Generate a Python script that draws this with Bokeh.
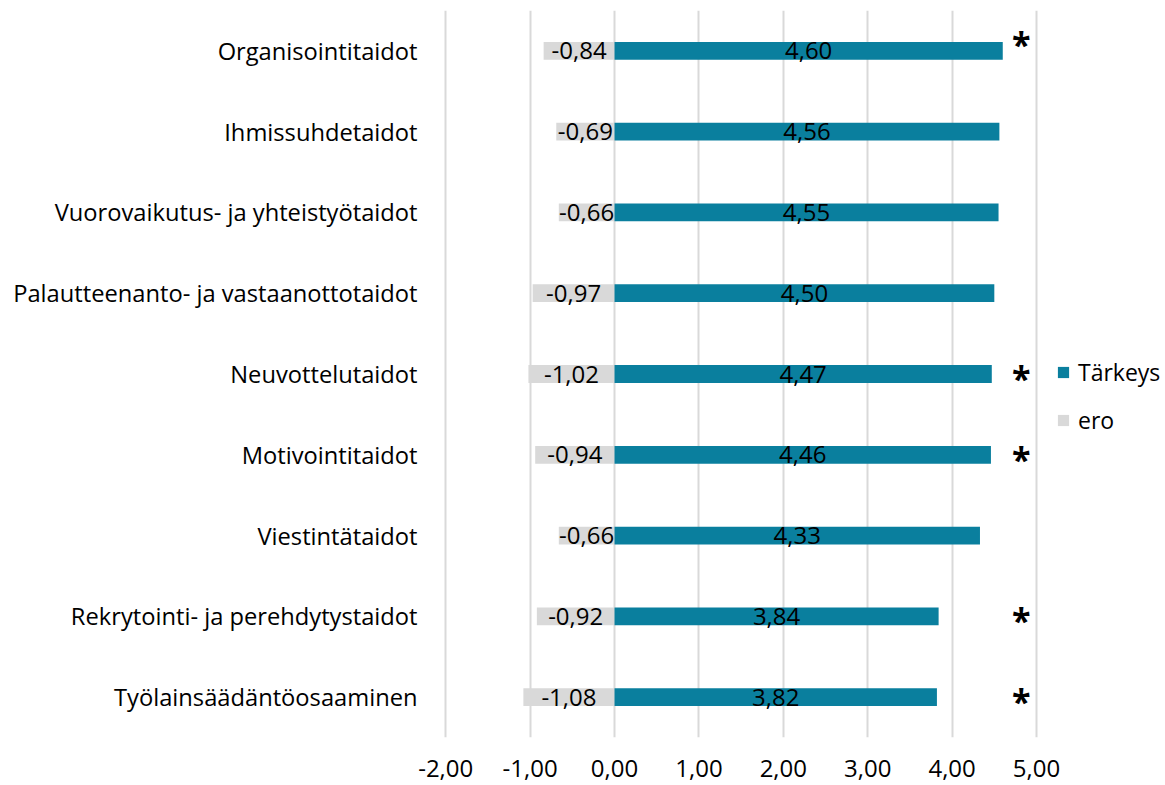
from bokeh.plotting import figure
from bokeh.models import ColumnDataSource, FactorRange, Range1d, FixedTicker, Legend, LegendItem, CustomJSTickFormatter
from bokeh.core.properties import value
from bokeh.embed import file_html
from bokeh.resources import INLINE

# Skill areas, listed top to bottom
categories = [
    "Organisointitaidot",
    "Ihmissuhdetaidot",
    "Vuorovaikutus- ja yhteistyötaidot",
    "Palautteenanto- ja vastaanottotaidot",
    "Neuvottelutaidot",
    "Motivointitaidot",
    "Viestintätaidot",
    "Rekrytointi- ja perehdytystaidot",
    "Työlainsäädäntöosaaminen",
]
importance = [4.60, 4.56, 4.55, 4.50, 4.47, 4.46, 4.33, 3.84, 3.82]   # Tärkeys
gap = [-0.84, -0.69, -0.66, -0.97, -1.02, -0.94, -0.66, -0.92, -1.08]  # ero
significant = [True, False, False, False, True, True, False, True, True]
x_ticks = [-2, -1, 0, 1, 2, 3, 4, 5]

FONT = "Open Sans"
TEAL = "#0A7F9E"
GREY = "#D9D9D9"
PX_PER_UNIT = 84.4


def fmt(v):
    return f"{v:.2f}".replace(".", ",")


factors = list(reversed(categories))

src = ColumnDataSource(dict(
    cat=categories,
    imp=importance,
    gap=gap,
    zero=[0] * len(categories),
    imp_mid=[v / 2 for v in importance],
    gap_mid=[v / 2 for v in gap],
    imp_lbl=[fmt(v) for v in importance],
    gap_lbl=[fmt(v) for v in gap],
))

x_start = -2.05
left_px = round(445 + (x_start + 2) * PX_PER_UNIT)
x_end = x_start + (1165 - left_px) / PX_PER_UNIT
p = figure(
    width=1165, height=785,
    y_range=FactorRange(factors=factors, range_padding=0),
    x_range=Range1d(x_start, x_end),
    output_backend="svg", toolbar_location=None,
    min_border_left=left_px, min_border_right=0,
    min_border_top=10, min_border_bottom=48,
)
p.outline_line_color = None
p.background_fill_color = "white"
p.border_fill_color = "white"

# vertical grid only
p.ygrid.grid_line_color = None
p.xgrid.ticker = FixedTicker(ticks=x_ticks)
p.xgrid.grid_line_color = GREY
p.xgrid.grid_line_width = 2

# bars
r_gap = p.hbar(y="cat", left="gap", right="zero", height=0.22, source=src,
               fill_color=GREY, line_color=None)
r_imp = p.hbar(y="cat", left="zero", right="imp", height=0.22, source=src,
               fill_color=TEAL, line_color=None)

# value labels centred in each bar
for xcol, lcol in (("imp_mid", "imp_lbl"), ("gap_mid", "gap_lbl")):
    p.text(x=xcol, y="cat", text=lcol, source=src, text_align="center",
           text_baseline="middle", text_font=value(FONT),
           text_font_size="24px", text_color="black")

# significance markers
sig_cats = [c for c, s in zip(categories, significant) if s]
sig_off = [-7 if c == categories[0] else 4 for c in sig_cats]
ast_src = ColumnDataSource(dict(cat=sig_cats, x=[4.82] * len(sig_cats),
                                t=["*"] * len(sig_cats), off=sig_off))
p.text(x="x", y="cat", text="t", y_offset="off", source=ast_src,
       text_align="center", text_baseline="middle", text_font=value(FONT),
       text_font_style="bold", text_font_size="34px", text_color="black")

# axes
p.xaxis.ticker = FixedTicker(ticks=x_ticks)
p.xaxis.formatter = CustomJSTickFormatter(code="return tick.toFixed(2).replace('.', ',');")
p.xaxis.axis_line_color = None
p.xaxis.major_tick_line_color = None
p.xaxis.minor_tick_line_color = None
p.xaxis.major_label_standoff = 16
p.xaxis.major_label_text_font = FONT
p.xaxis.major_label_text_font_size = "24px"
p.xaxis.major_label_text_color = "black"

p.yaxis.axis_line_color = None
p.yaxis.major_tick_line_color = None
p.yaxis.minor_tick_line_color = None
p.yaxis.major_label_standoff = 18
p.yaxis.major_label_text_font = FONT
p.yaxis.major_label_text_font_size = "23.7px"
p.yaxis.major_label_text_color = "black"

legend = Legend(
    items=[LegendItem(label="Tärkeys", renderers=[r_imp]),
           LegendItem(label="ero", renderers=[r_gap])],
    location=(1056 - left_px, 301),
    orientation="vertical",
    glyph_width=14, glyph_height=14,
    label_standoff=8, label_height=28, spacing=16,
    padding=0, margin=0,
    label_text_font=FONT, label_text_font_size="23px", label_text_color="black",
    background_fill_alpha=0, border_line_color=None,
)
p.add_layout(legend)

open("out.html", "w").write(file_html(p, INLINE))
